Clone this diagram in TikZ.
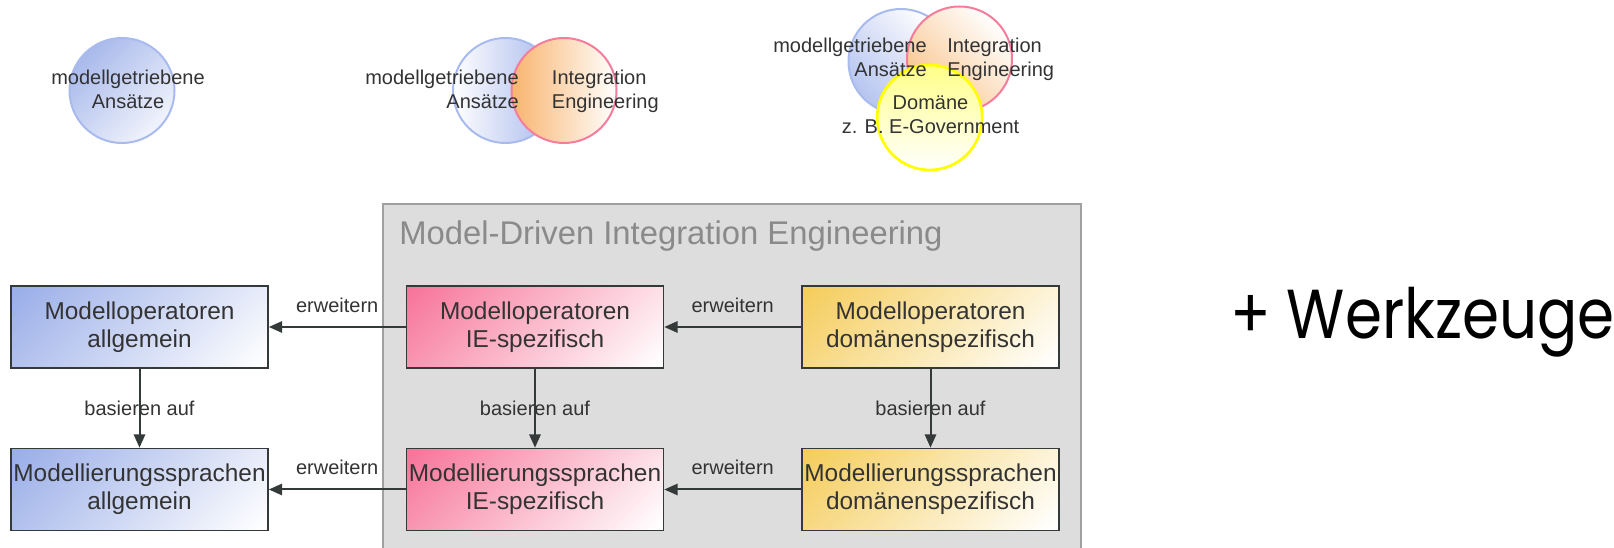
\documentclass[tikz,border=0pt]{standalone}
\usepackage{fontspec}
\setmainfont{Liberation Sans}
\newfontfamily\werkfont{Poppins}
\usepackage{xcolor}
\usetikzlibrary{positioning,arrows.meta,shadings}

\definecolor{boxblue}{HTML}{9AAEE8}
\definecolor{boxpink}{HTML}{F7759A}
\definecolor{boxgold}{HTML}{F5CD5C}
\definecolor{ringblue}{HTML}{A8BAEE}
\definecolor{ringpink}{HTML}{F57C9C}
\definecolor{ringyellow}{HTML}{FFFF00}
\definecolor{fillblue}{HTML}{A4B6EC}
\definecolor{fillorange}{HTML}{F8B46E}
\definecolor{fillyellow}{HTML}{FFFF88}
\definecolor{txtgray}{HTML}{333333}
\definecolor{linegray}{HTML}{343A3A}
\definecolor{panelgray}{HTML}{DDDDDD}
\definecolor{panelborder}{HTML}{A0A0A0}
\definecolor{titlegray}{HTML}{8A8A8A}

% diagonal fades, white at 0bp, colour at 100bp
\pgfdeclareverticalshading{blueFade}{100bp}{color(0bp)=(white); color(16bp)=(white); color(84bp)=(boxblue); color(100bp)=(boxblue)}
\pgfdeclareverticalshading{pinkFade}{100bp}{color(0bp)=(white); color(16bp)=(white); color(84bp)=(boxpink); color(100bp)=(boxpink)}
\pgfdeclareverticalshading{goldFade}{100bp}{color(0bp)=(white); color(16bp)=(white); color(84bp)=(boxgold); color(100bp)=(boxgold)}

\begin{document}
\begin{tikzpicture}[x=0.75pt, y=-0.75pt,
    modbox/.style={draw=linegray, line width=1.2pt, minimum width=192.75pt,
      minimum height=61.5pt, inner sep=0pt, align=center, text=txtgray,
      font=\fontsize{18.3}{21.2}\selectfont, shade, shading=#1, shading angle=45},
    ring/.style={circle, minimum size=78.75pt, inner sep=0pt, line width=1.5pt},
    ringtext/.style={inner sep=0pt, text=txtgray, font=\fontsize{15}{17.8}\selectfont},
    arr/.style={-{Triangle[length=10pt,width=8.5pt]}, draw=linegray, line width=1.5pt},
    lbl/.style={inner sep=0pt, text=txtgray, font=\fontsize{15}{17.5}\selectfont}]
    \clip (0,0) rectangle (1614,548);

    % Circles
    \node[ring, draw=ringblue, shade, shading=blueFade, shading angle=45] (one) at (122,90.5) {};
    \node[ringtext, align=center] (oneText) at (128,89.5) {modellgetriebene\\Ansätze};

    \node[ring, draw=ringblue, left color=white, right color=fillblue] (twoA) at (505.5,90.5) {};
    \node[ring, draw=ringpink, right color=white, left color=fillorange] (twoB) at (564,90.5) {};
    \node[ringtext, align=right, anchor=east] (twoAText) at (519,89.5) {modellgetriebene\\Ansätze};
    \node[ringtext, align=left, anchor=west] (twoBText) at (551.7,91.5) {Integration\\Engineering};

    \node[ring, draw=ringblue, top color=white, bottom color=fillblue!80, shading angle=-45] (threeA) at (901,61.5) {};
    \node[ring, draw=ringpink, top color=white, bottom color=fillorange!80, shading angle=-45] (threeB) at (959.5,59) {};
    \node[ring, draw=ringyellow, line width=2pt, bottom color=white, top color=fillyellow] (threeC) at (929.7,117.5) {};
    \node[ringtext, align=right, anchor=east] (threeAText) at (927,57) {modellgetriebene\\Ansätze};
    \node[ringtext, align=left, anchor=west] (threeBText) at (947,59) {Integration\\Engineering};
    \node[ringtext, align=center] (threeCText) at (930.5,115) {Domäne\\z. B. E-Government};

    % Panel
    \draw[draw=panelborder, fill=panelgray, line width=1.5pt] (383,204) rectangle (1081,570);
    \node[inner sep=0pt, anchor=base west, text=titlegray, font=\fontsize{24.6}{28}\selectfont] (title) at (399,245) {Model-Driven Integration Engineering};

    % Boxes
    \node[modbox=blueFade] (opAll) at (139.5,327) {Modelloperatoren\\allgemein};
    \node[modbox=blueFade] (langAll) at (139.5,489.5) {Modellierungssprachen\\allgemein};
    \node[modbox=pinkFade] (opIE) at (535,327) {Modelloperatoren\\IE-spezifisch};
    \node[modbox=pinkFade] (langIE) at (535,489.5) {Modellierungssprachen\\IE-spezifisch};
    \node[modbox=goldFade] (opDom) at (930.5,327) {Modelloperatoren\\domänenspezifisch};
    \node[modbox=goldFade] (langDom) at (930.5,489.5) {Modellierungssprachen\\domänenspezifisch};

    % Arrows
    \foreach \a/\b in {opIE/opAll, langIE/langAll, opDom/opIE, langDom/langIE}
        \draw[arr] (\a.west) -- (\b.east) node[lbl, midway, anchor=base, yshift=10.9pt] {erweitern};
    \foreach \a/\b in {opAll/langAll, opIE/langIE, opDom/langDom}
        \draw[arr] (\a.south) -- (\b.north) node[lbl, midway] {basieren auf};

    \node[inner sep=0pt, anchor=base west, font=\werkfont\fontsize{52}{60}\selectfont] (tools) at (1230,339) {\scalebox{0.86}[1]{+ Werkzeuge}};
\end{tikzpicture}
\end{document}
